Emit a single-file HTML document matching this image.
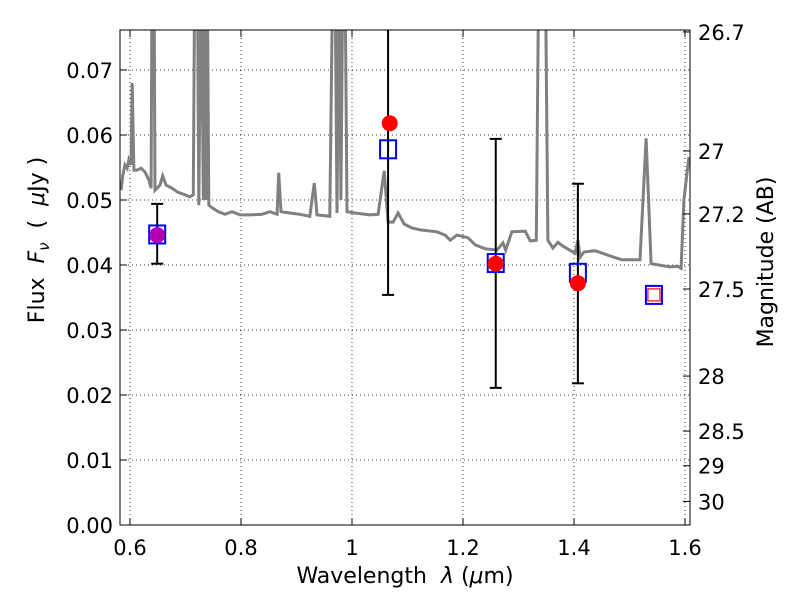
<!DOCTYPE html>
<html><head><meta charset="utf-8"><style>
body{margin:0;background:#fff;}
svg text{font-family:"DejaVu Sans","Liberation Sans",sans-serif;}
</style></head><body>
<svg id="chart" width="800" height="600" viewBox="0 0 800 600" xmlns="http://www.w3.org/2000/svg"></svg>
<script>
const specLam=[0.584,0.587,0.591,0.595,0.598,0.602,0.604,0.607,0.613,0.620,0.627,0.634,0.638,0.640,0.643,0.645,0.654,0.659,0.665,0.676,0.686,0.699,0.708,0.714,0.717,0.721,0.724,0.728,0.732,0.733,0.737,0.739,0.742,0.748,0.759,0.771,0.784,0.798,0.816,0.838,0.852,0.865,0.868,0.872,0.888,0.906,0.924,0.932,0.937,0.960,0.966,0.969,0.973,0.977,0.980,0.984,0.987,0.991,1.005,1.032,1.047,1.058,1.065,1.074,1.083,1.094,1.108,1.123,1.153,1.168,1.177,1.189,1.209,1.222,1.240,1.261,1.272,1.277,1.288,1.312,1.321,1.332,1.337,1.348,1.353,1.362,1.371,1.380,1.402,1.407,1.411,1.418,1.438,1.465,1.486,1.519,1.530,1.539,1.573,1.587,1.593,1.598,1.607];
const specFlux=[0.0515,0.0538,0.0554,0.0549,0.0562,0.0554,0.068,0.0546,0.0546,0.0549,0.0543,0.0531,0.0518,0.09,0.09,0.0515,0.0523,0.0537,0.0523,0.0518,0.0512,0.0508,0.0505,0.0508,0.09,0.09,0.0492,0.09,0.05,0.09,0.05,0.09,0.0492,0.0488,0.0482,0.0478,0.0482,0.0477,0.0477,0.0478,0.0482,0.0478,0.0542,0.0482,0.048,0.0478,0.0475,0.0526,0.0477,0.0475,0.09,0.09,0.048,0.09,0.05,0.09,0.09,0.0482,0.048,0.0477,0.0478,0.0545,0.0466,0.0466,0.048,0.0463,0.0457,0.0454,0.0451,0.0446,0.0438,0.0446,0.0442,0.0431,0.0425,0.0423,0.0434,0.0423,0.0451,0.0452,0.0437,0.0438,0.09,0.09,0.0438,0.0426,0.0435,0.0429,0.0418,0.0438,0.0412,0.042,0.0422,0.0414,0.0408,0.0408,0.0595,0.0402,0.0397,0.0398,0.0395,0.05,0.0566];
const obsLam=[0.649,1.065,1.259,1.407,1.544];
const obsFlux=[0.0447,0.0578,0.0403,0.0388,0.0354];
const obsErrHi=[0.0494,0.09,0.0594,0.0525,null];
const obsErrLo=[0.0402,0.0354,0.0211,0.0218,null];
const modelLam=[0.649,1.068,1.259,1.407];
const modelFlux=[0.0446,0.0618,0.0402,0.0372];
const xTicks=[0.6,0.8,1.0,1.2,1.4,1.6];
const xTickLabels=["0.6","0.8","1","1.2","1.4","1.6"];
const yTicks=[0,0.01,0.02,0.03,0.04,0.05,0.06,0.07];
const yTickLabels=["0.00","0.01","0.02","0.03","0.04","0.05","0.06","0.07"];
const magTicks=[26.7,27,27.2,27.5,28,28.5,29,30];
const magTickLabels=["26.7","27","27.2","27.5","28","28.5","29","30"];

const L=120,R=690,T=30,B=525;
const xS=v=>130+(v-0.6)*555;
const yS=v=>525-v*6500;
const magToFlux=m=>Math.pow(10,(23.9-m)/2.5);
const svg=document.getElementById('chart');
const NS='http://www.w3.org/2000/svg';
function mk(tag,attrs,parent){const e=document.createElementNS(NS,tag);for(const k in attrs)e.setAttribute(k,attrs[k]);(parent||svg).appendChild(e);return e;}

const defs=mk('defs',{});
const cp=mk('clipPath',{id:'clip'},defs);mk('rect',{x:L,y:T,width:R-L,height:B-T},cp);

const grid=mk('g',{});


xTicks.forEach(v=>mk('line',{x1:xS(v),x2:xS(v),y1:T,y2:B,stroke:'#000','stroke-width':0.8,'stroke-dasharray':'1,3'},grid));
yTicks.forEach(v=>mk('line',{x1:L,x2:R,y1:yS(v),y2:yS(v),stroke:'#000','stroke-width':0.8,'stroke-dasharray':'1,3'},grid));

const pts=specLam.map((l,i)=>xS(l).toFixed(1)+','+yS(specFlux[i]).toFixed(1)).join(' ');
const sp=mk('polyline',{points:pts,fill:'none',stroke:'#808080','stroke-width':3,'clip-path':'url(#clip)'});



obsLam.forEach((l,i)=>{
  if(obsErrHi[i]===null)return;
  const g=mk('g',{'clip-path':'url(#clip)'});
  
  
  const x=xS(l);
  mk('line',{x1:x,x2:x,y1:yS(obsErrHi[i]),y2:yS(obsErrLo[i]),stroke:'#000','stroke-width':2},g);
  mk('line',{x1:x-6,x2:x+6,y1:yS(obsErrHi[i]),y2:yS(obsErrHi[i]),stroke:'#000','stroke-width':2},g);
  mk('line',{x1:x-6,x2:x+6,y1:yS(obsErrLo[i]),y2:yS(obsErrLo[i]),stroke:'#000','stroke-width':2},g);
});
obsLam.forEach((l,i)=>{
  const s=mk('rect',{x:xS(l)-8,y:yS(obsFlux[i])-9,width:16,height:18,fill:'none',stroke:'#0000ff','stroke-width':2});
  
  
});
modelLam.forEach((l,i)=>{
  const c=mk('circle',{cx:xS(l),cy:yS(modelFlux[i]),r:8,fill:i===0?'#b000b0':'#ff0000'});
  
  
});
{const l=obsLam[4];const s=mk('rect',{x:xS(l)-6,y:yS(obsFlux[4])-6,width:12,height:12,fill:'none',stroke:'#ff0000','stroke-width':1.2});

}

const fr=mk('rect',{x:L,y:T,width:R-L,height:B-T,fill:'none',stroke:'#000','stroke-width':1});



xTicks.forEach((v,i)=>{
  const x=xS(v);
  mk('line',{x1:x,x2:x,y1:B,y2:B-7,stroke:'#000'});
  mk('line',{x1:x,x2:x,y1:T,y2:T+7,stroke:'#000'});
  const t=mk('text',{x:x,y:B+30,'font-size':21,'text-anchor':'middle'});t.textContent=xTickLabels[i];
  
  
});
yTicks.forEach((v,i)=>{
  const y=yS(v);
  mk('line',{x1:L,x2:L+7,y1:y,y2:y,stroke:'#000'});
  const t=mk('text',{x:L-7,y:y+8,'font-size':21,'text-anchor':'end'});t.textContent=yTickLabels[i];
  
  
});
magTicks.forEach((m,i)=>{
  const y=yS(magToFlux(m));
  mk('line',{x1:R,x2:R-7,y1:y,y2:y,stroke:'#000'});
  const t=mk('text',{x:R+8,y:y+8,'font-size':21,'text-anchor':'start'});t.textContent=magTickLabels[i];
  
  
});

const xl=mk('text',{x:405,y:583,'font-size':22,'text-anchor':'middle'});
xl.innerHTML='Wavelength&#160;&#160;<tspan font-style="italic">λ</tspan> (<tspan font-style="italic">μ</tspan>m)';


const yl=mk('text',{x:0,y:0,'font-size':22,'text-anchor':'middle',transform:'translate(44,240) rotate(-90)'});
yl.innerHTML='Flux&#160;&#160;<tspan font-style="italic">F</tspan><tspan font-style="italic" font-size="15" dy="5">ν</tspan><tspan dy="-5">&#160;&#160;(&#160;&#160;</tspan><tspan font-style="italic">μ</tspan>Jy )';


const rl=mk('text',{x:0,y:0,'font-size':22,'text-anchor':'middle',transform:'translate(773,262) rotate(-90)'});
rl.textContent='Magnitude (AB)';


</script>
</body></html>
